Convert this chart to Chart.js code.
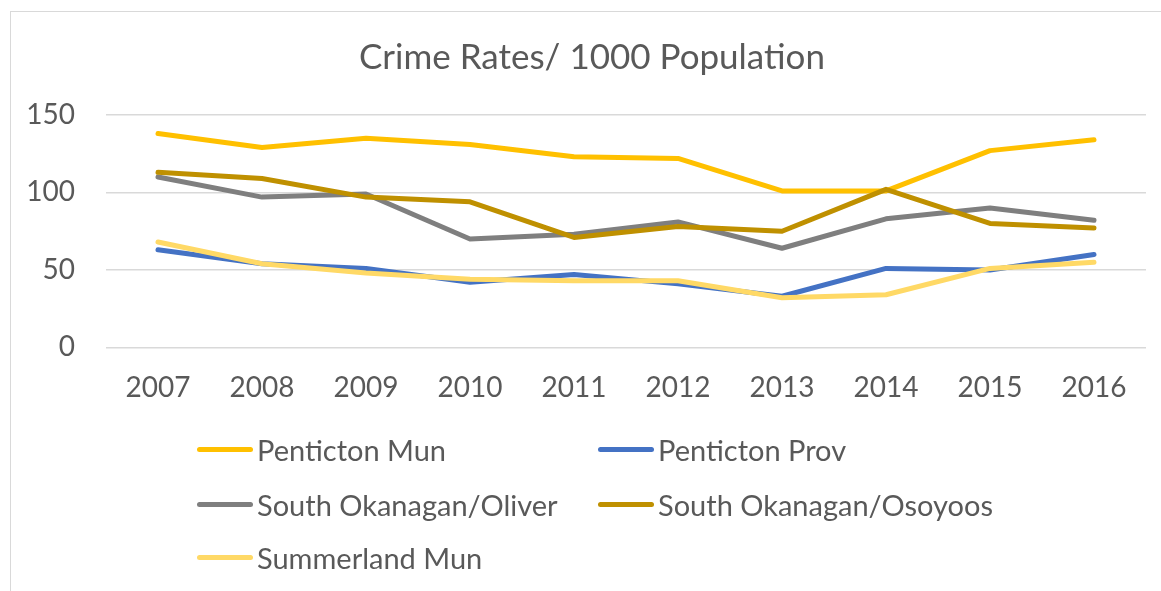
<!DOCTYPE html>
<html lang="en">
<head>
  <meta charset="UTF-8" />
  <title>Crime Rates/ 1000 Population</title>
  <script src="https://cdn.jsdelivr.net/npm/chart.js"></script>
  <style>
    body { margin: 0; background: #fff; }
    .wrap { position: relative; width: 1161px; height: 591px; overflow: hidden;
            font-family: Lato, "Open Sans", sans-serif; color: #595959; }
    .frame { position: absolute; left: 10px; top: 11px; right: -2px; bottom: -2px; border: 1px solid #d9d9d9; }
    .chart-box { position: absolute; left: 0; top: 0; width: 1161px; height: 591px; }
    .title { position: absolute; left: 92px; width: 1000px; top: 34px; line-height: 42px;
             text-align: center; font-size: 35px; }
    .legend { position: absolute; left: 0; top: 0; width: 1161px; height: 591px; pointer-events: none; font-size: 29px; }
    .legend .item { position: absolute; display: flex; align-items: center; height: 40px; white-space: nowrap; }
    .legend .line { width: 56px; height: 5px; border-radius: 3px; margin-right: 4px; }
  </style>
</head>
<body>
  <div class="wrap">
    <div class="frame"></div>
    <div class="chart-box"><canvas id="chart"></canvas></div>
    <div class="title">Crime Rates/ 1000 Population</div>
    <div class="legend" id="legend"></div>
  </div>

  <script>
    const years = ['2007', '2008', '2009', '2010', '2011', '2012', '2013', '2014', '2015', '2016'];
    const seriesNames = ['Penticton Mun', 'Penticton Prov', 'South Okanagan/Oliver', 'South Okanagan/Osoyoos', 'Summerland Mun'];
    const pentictonMun = [138, 129, 135, 131, 123, 122, 101, 101, 127, 134];
    const pentictonProv = [63, 54, 51, 42, 47, 41, 33, 51, 50, 60];
    const oliver = [110, 97, 99, 70, 73, 81, 64, 83, 90, 82];
    const osoyoos = [113, 109, 97, 94, 71, 78, 75, 102, 80, 77];
    const summerland = [68, 54, 48, 44, 43, 43, 32, 34, 51, 55];
    const yTicks = [0, 50, 100, 150];

    const colors = ['#FFC000', '#4472C4', '#7F7F7F', '#BF9000', '#FFD966'];
    const values = [pentictonMun, pentictonProv, oliver, osoyoos, summerland];

    const txt = '#595959';
    const font = "Lato, 'Open Sans', sans-serif";

    // later series drawn on top, like in the original
    const datasets = values.map((v, i) => ({
      label: seriesNames[i],
      data: v,
      borderColor: colors[i],
      backgroundColor: colors[i],
      borderWidth: 5,
      pointRadius: 0,
      tension: 0,
      borderCapStyle: 'round',
      borderJoinStyle: 'round',
      order: values.length - i
    }));

    new Chart(document.getElementById('chart'), {
      type: 'line',
      data: { labels: years, datasets: datasets },
      options: {
        responsive: true,
        maintainAspectRatio: false,
        animation: false,
        layout: { padding: { left: 0, right: 15, top: 115, bottom: 162 } },
        plugins: {
          legend: { display: false },
          tooltip: { enabled: false },
          title: { display: false }
        },
        scales: {
          x: {
            offset: true,
            grid: { display: false, drawTicks: false },
            border: { display: false },
            ticks: { color: txt, font: { family: font, size: 28 }, padding: 24, maxRotation: 0 }
          },
          y: {
            min: 0,
            max: 150,
            afterFit: s => { s.width = 106; },
            afterBuildTicks: s => { s.ticks = yTicks.map(v => ({ value: v })); },
            grid: { color: '#d9d9d9', lineWidth: 1.5, drawTicks: false },
            border: { display: false },
            ticks: { color: txt, font: { family: font, size: 28 }, padding: 31 }
          }
        }
      }
    });

    // legend in two columns
    const legendPos = [[197, 449], [598, 449], [197, 504], [598, 504], [197, 557]];
    const legend = document.getElementById('legend');
    seriesNames.forEach((name, i) => {
      const item = document.createElement('div');
      item.className = 'item';
      item.style.left = legendPos[i][0] + 'px';
      item.style.top = (legendPos[i][1] - 20) + 'px';
      item.innerHTML = `<span class="line" style="background:${colors[i]}"></span><span>${name}</span>`;
      legend.appendChild(item);
    });
  </script>
</body>
</html>
